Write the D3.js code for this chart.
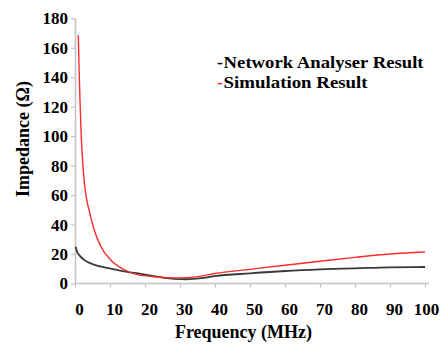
<!DOCTYPE html>
<html>
<head>
<meta charset="utf-8">
<script src="https://cdn.jsdelivr.net/npm/d3@7"></script>
<style>
  body { margin: 0; background: #fff; }
</style>
</head>
<body>
<script>
const width = 440;
const height = 345;
const font = "'Liberation Serif', 'Times New Roman', Times, 'DejaVu Serif', serif";

// values
const freqSim = [0.94, 1.2, 1.43, 1.7, 2, 2.43, 3, 3.5, 4, 5.4, 7.3, 10.2, 14, 17.8, 22.6, 25, 28, 32, 36, 40, 50, 60, 70, 80, 90, 100];
const zSim = [168.5, 143, 124.5, 105, 90, 75, 62, 55, 50, 37, 25.5, 16, 9.5, 6, 4.6, 4.1, 3.8, 4, 5, 6.8, 9.6, 12.4, 15.1, 17.7, 20, 21.4];

const freqNet = [0.2, 0.6, 1.1, 2.6, 5.4, 9.2, 14, 18.8, 24.5, 28.3, 32, 36, 40, 50, 60, 70, 80, 90, 100];
const zNet = [25, 21.5, 19.6, 16, 12.8, 10.6, 8.3, 6.5, 4.3, 3.2, 2.9, 3.6, 5, 6.9, 8.5, 9.6, 10.3, 11, 11.2];

const xTicks = [0, 10, 20, 30, 40, 50, 60, 70, 80, 90, 100];
const yTicks = [0, 20, 40, 60, 80, 100, 120, 140, 160, 180];

const legendItems = [
  { label: "Network Analyser Result", color: "#000" },
  { label: "Simulation Result", color: "#ff2b2b" },
];

const x = d3.scaleLinear([0, 100], [75, 425]);
const y = d3.scaleLinear([0, 180], [283.5, 18.3]);

const svg = d3
  .select("body")
  .append("svg")
  .attr("width", width)
  .attr("height", height)
  .attr("font-family", font)
  .attr("font-weight", "bold");

// axes
const gx = svg
  .append("g")
  .attr("transform", `translate(0,${y(0)})`)
  .call(d3.axisBottom(x).tickValues(xTicks).tickSize(4).tickSizeOuter(0).tickPadding(15));

const gy = svg
  .append("g")
  .attr("transform", `translate(${x(0)},0)`)
  .call(d3.axisLeft(y).tickValues(yTicks).tickSize(4).tickSizeOuter(0).tickPadding(3));

[gx, gy].forEach((g) => {
  g.attr("font-family", font).attr("font-size", 17);
  g.select(".domain").attr("stroke", "#c4c4c4").attr("stroke-width", 1.6);
  g.selectAll(".tick line").attr("stroke", "#c4c4c4").attr("stroke-width", 1.2);
  g.selectAll(".tick text").attr("fill", "#000");
});
gx.select(".domain").attr("d", `M${x(0)},0H${x(100) + 4}`);
// labels sit a bit right of their ticks; the last one is kept inside the page
gx.selectAll(".tick text").attr("dx", (d) => (d === 100 ? 1 : 4));

// lines
const line = d3
  .line()
  .x((d) => x(d[0]))
  .y((d) => y(d[1]))
  .curve(d3.curveMonotoneX);

svg
  .append("path")
  .datum(d3.zip(freqNet, zNet))
  .attr("fill", "none")
  .attr("stroke", "#3a3a3a")
  .attr("stroke-width", 1.8)
  .attr("d", line);

svg
  .append("path")
  .datum(d3.zip(freqSim, zSim))
  .attr("fill", "none")
  .attr("stroke", "#ff2b2b")
  .attr("stroke-width", 1.4)
  .attr("d", line);

// axis titles
svg
  .append("text")
  .attr("x", 243.5)
  .attr("y", 338)
  .attr("text-anchor", "middle")
  .attr("font-size", 18)
  .text("Frequency (MHz)");

svg
  .append("text")
  .attr("transform", "translate(29,139) rotate(-90)")
  .attr("text-anchor", "middle")
  .attr("font-size", 18)
  .text("Impedance (Ω)");

// legend: dash in series colour, then label (stretched a little to the original width)
const legendWidths = [200, 144];
const legend = svg
  .append("g")
  .attr("font-size", 17.5)
  .selectAll("g")
  .data(legendItems)
  .join("g")
  .attr("transform", (d, i) => `translate(217,${68 + i * 19.5})`);

legend.append("text").attr("fill", (d) => d.color).text("-");
legend
  .append("text")
  .attr("x", 6.6)
  .attr("textLength", (d, i) => legendWidths[i])
  .attr("lengthAdjust", "spacingAndGlyphs")
  .text((d) => d.label);
</script>
</body>
</html>
